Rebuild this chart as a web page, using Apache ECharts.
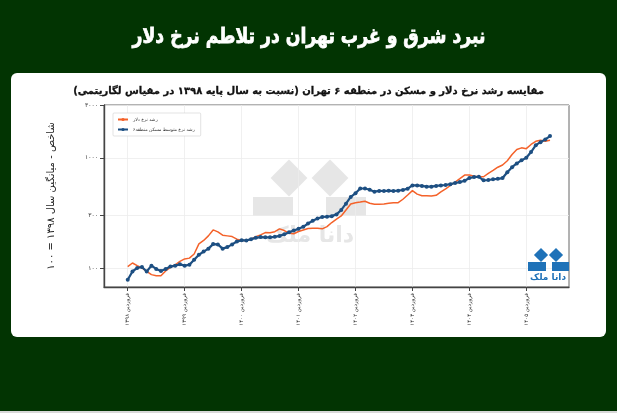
<!DOCTYPE html>
<html><head><meta charset="utf-8">
<script src="https://cdn.jsdelivr.net/npm/echarts@6/dist/echarts.min.js"></script>
<style>html,body{margin:0;padding:0;background:#023402;}#c{width:617px;height:413px;}</style>
</head><body><div id="c"></div>
<script>
// ---- data ----
const monthNames = ['فروردین','اردیبهشت','خرداد','تیر','مرداد','شهریور','مهر','آبان','آذر','دی','بهمن','اسفند'];
const firstYear = 1397, firstMonth = 7;   // axis starts Aban 1397
const categoryCount = 99;
const dataOffset = 5;                      // data starts Farvardin 1398
const dollarGrowth = [104,112,106,101,94,88,86,86,95,102,108,116,122,124,135,167,179,197,223,214,200,197,194,184,179,179,184,194,201,211,210,215,228,220,208,206,216,223,230,231,231,228,239,260,279,298,338,383,393,398,405,388,380,380,383,388,393,393,422,461,505,470,454,454,451,458,492,524,562,602,648,698,700,680,674,674,724,769,822,860,940,1070,1190,1230,1210,1320,1410,1440,1410,1440];
const housingGrowth = [79,94,101,103,94,106,99,95,99,104,106,109,106,108,120,133,142,151,166,165,151,156,165,175,180,179,184,189,192,191,191,193,197,204,212,220,228,238,255,270,283,292,294,297,308,338,385,443,478,528,528,515,494,502,501,505,501,505,512,526,563,563,557,548,548,557,563,568,578,592,603,620,657,670,674,626,630,640,646,656,740,822,890,948,1000,1128,1300,1385,1465,1570];
const yTickValues = [100,300,1000,3000];
const seriesNames = ['رشد نرخ دلار','رشد نرخ متوسط مسکن منطقه۶'];
const mainTitle = 'نبرد شرق و غرب تهران در تلاطم نرخ دلار';
const subTitle = 'مقایسه رشد نرخ دلار و مسکن در منطقه ۶ تهران (نسبت به سال پایه ۱۳۹۸ در مقیاس لگاریتمی)';
const yAxisName = 'شاخص - میانگین سال ۱۳۹۸ = ۱۰۰';
const logoText = 'دانا ملک';

// ---- helpers ----
const fa = s => String(s).replace(/\d/g, d => '۰۱۲۳۴۵۶۷۸۹'[d]);
const categories = [];
for (let k = 0; k < categoryCount; k++) {
  const m = (firstMonth + k) % 12;
  const y = firstYear + Math.floor((firstMonth + k) / 12);
  categories.push(monthNames[m] + ' ' + fa(y));
}
const pad = arr => {
  const out = new Array(categoryCount).fill(null);
  arr.forEach((v, i) => { out[i + dataOffset] = v; });
  return out;
};
const isFarvardin = (idx) => categories[idx].indexOf(monthNames[0]) === 0;

const FONT = 'DejaVu Sans';
const chart = echarts.init(document.getElementById('c'), null, {renderer: 'canvas'});
const wmColor = '#e6e6e6';
const logoColor = '#1f72b8';
chart.setOption({
  backgroundColor: '#023402',
  animation: false,
  title: [
    {text: subTitle, left: 'center', top: 81, textStyle: {color: '#111', fontSize: 10, fontWeight: 'bold', fontFamily: FONT, textBorderColor: '#111', textBorderWidth: 0.3}}
  ],
  graphic: [
    {type: 'rect', z: -10, shape: {x: 11, y: 73, width: 595, height: 264, r: 6}, style: {fill: '#fff'}},
    {type: 'rect', z: -10, shape: {x: 0, y: 411, width: 617, height: 2}, style: {fill: '#d8d8d8'}},
    {type: 'text', z: 5, x: 309, y: 38, scaleX: 0.82, style: {text: mainTitle, fill: '#fff', fontSize: 21, fontWeight: 'bold', fontFamily: FONT, align: 'center', verticalAlign: 'middle', stroke: '#fff', lineWidth: 0.8}},
    // watermark
    {type: 'rect', z: -5, x: 289, y: 178, rotation: Math.PI/4, shape: {x: -13, y: -13, width: 26, height: 26}, style: {fill: wmColor}},
    {type: 'rect', z: -5, x: 330, y: 178, rotation: Math.PI/4, shape: {x: -13, y: -13, width: 26, height: 26}, style: {fill: wmColor}},
    {type: 'rect', z: -5, shape: {x: 253, y: 197, width: 40, height: 19}, style: {fill: wmColor}},
    {type: 'rect', z: -5, shape: {x: 326, y: 197, width: 40, height: 19}, style: {fill: wmColor}},
    {type: 'text', z: -5, x: 310, y: 236, style: {text: logoText, fill: wmColor, fontSize: 22, fontWeight: 'bold', fontFamily: FONT, align: 'center', verticalAlign: 'middle'}},
    // corner logo
    {type: 'rect', z: 5, x: 541, y: 255, rotation: Math.PI/4, shape: {x: -5, y: -5, width: 10, height: 10}, style: {fill: logoColor}},
    {type: 'rect', z: 5, x: 556, y: 255, rotation: Math.PI/4, shape: {x: -5, y: -5, width: 10, height: 10}, style: {fill: logoColor}},
    {type: 'rect', z: 5, shape: {x: 528, y: 262, width: 18, height: 9}, style: {fill: logoColor}},
    {type: 'rect', z: 5, shape: {x: 552, y: 262, width: 17, height: 9}, style: {fill: logoColor}},
    {type: 'text', z: 5, x: 548, y: 278, style: {text: logoText, fill: logoColor, fontSize: 9, fontWeight: 'bold', fontFamily: FONT, align: 'center', verticalAlign: 'middle'}}
  ],
  legend: {
    orient: 'vertical', left: 113, top: 113,
    itemWidth: 10, itemHeight: 4, itemGap: 5,
    padding: [4, 6, 4, 4],
    backgroundColor: '#fff', borderColor: '#d0d0d0', borderWidth: 0.6, borderRadius: 1,
    textStyle: {fontSize: 4.5, color: '#333', fontFamily: FONT},
    data: seriesNames
  },
  grid: {left: 104, right: 48, top: 105, bottom: 126, show: true, borderColor: '#666', borderWidth: 1, backgroundColor: 'transparent'},
  xAxis: {
    type: 'category', data: categories, boundaryGap: false,
    axisLine: {lineStyle: {color: '#444', width: 1.4}},
    axisTick: {interval: isFarvardin, length: 4, lineStyle: {color: '#444'}},
    axisLabel: {interval: isFarvardin, rotate: 90, fontSize: 5.5, color: '#333', margin: 6, fontFamily: FONT},
    splitLine: {show: true, interval: isFarvardin, lineStyle: {color: '#ececec', width: 0.8}}
  },
  yAxis: {
    type: 'log', logBase: 10, min: 68, max: 3000,
    name: yAxisName, nameLocation: 'middle', nameGap: 48,
    nameTextStyle: {fontSize: 10, color: '#222', fontFamily: FONT},
    axisLine: {show: true, lineStyle: {color: '#444', width: 1.4}},
    axisTick: {show: true, length: 4, customValues: yTickValues, lineStyle: {color: '#444'}},
    axisLabel: {customValues: yTickValues, fontSize: 6, color: '#333', margin: 6, fontFamily: FONT, formatter: v => fa(Math.round(v))},
    splitLine: {show: true, lineStyle: {color: '#ececec', width: 0.8}}
  },
  series: [
    {name: seriesNames[0], type: 'line', data: pad(dollarGrowth), symbol: 'circle', symbolSize: 3, showSymbol: false,
     itemStyle: {color: '#f4622a'}, lineStyle: {color: '#f4622a', width: 1.5}, z: 3},
    {name: seriesNames[1], type: 'line', data: pad(housingGrowth), symbol: 'circle', symbolSize: 4, showSymbol: true, showAllSymbol: true,
     itemStyle: {color: '#1d4f82'}, lineStyle: {color: '#1d4f82', width: 2.2}, z: 4}
  ]
});
</script></body></html>
